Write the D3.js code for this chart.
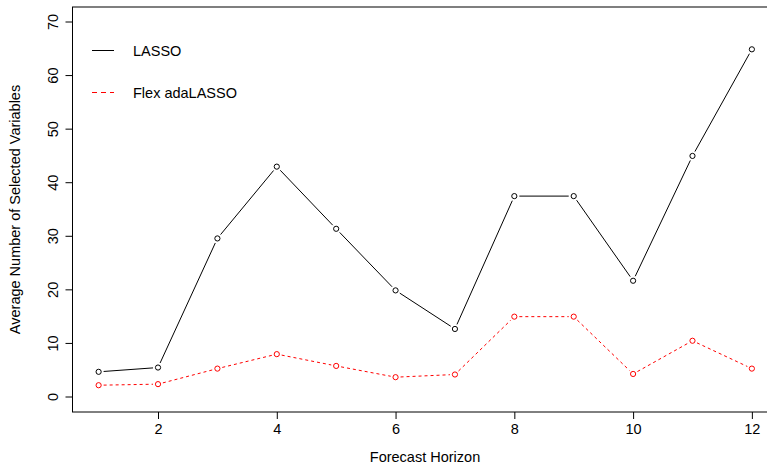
<!DOCTYPE html>
<html>
<head>
<meta charset="utf-8">
<script src="https://cdn.jsdelivr.net/npm/d3@7"></script>
<style>
  body { margin: 0; background: #fff; }
  text { font-family: "Liberation Sans", Arial, sans-serif; }
</style>
</head>
<body>
<script>
var horizons = [1, 2, 3, 4, 5, 6, 7, 8, 9, 10, 11, 12];
var lasso = [4.7, 5.5, 29.6, 43.0, 31.4, 19.9, 12.7, 37.5, 37.5, 21.7, 45.0, 64.9];
var flexAda = [2.2, 2.4, 5.3, 8.0, 5.8, 3.7, 4.2, 15.0, 15.0, 4.3, 10.5, 5.3];
var xTicks = [2, 4, 6, 8, 10, 12];
var yTicks = [0, 10, 20, 30, 40, 50, 60, 70];
var seriesNames = ["LASSO", "Flex adaLASSO"];

var svgWidth = 767;
var svgHeight = 468;

// R style: 4% padding around the data range
var x = d3.scaleLinear()
          .domain([1 - 0.44, 12 + 0.44])
          .range([72.5, 778]);
var y = d3.scaleLinear()
          .domain([-2.8, 72.8])
          .range([412, 7]);

var svg = d3.select("body")
            .append("svg")
            .attr("width", svgWidth)
            .attr("height", svgHeight);

// box
svg.append("rect")
   .attr("x", x.range()[0])
   .attr("y", y.range()[1])
   .attr("width", x.range()[1] - x.range()[0])
   .attr("height", y.range()[0] - y.range()[1])
   .attr("fill", "none")
   .attr("stroke", "#000")
   .attr("stroke-width", 1);

var xAxis = d3.axisBottom(x).tickValues(xTicks).tickSize(7).tickPadding(5);
var yAxis = d3.axisLeft(y).tickValues(yTicks).tickSize(7).tickPadding(5);

var gx = svg.append("g")
   .attr("transform", "translate(0," + y.range()[0] + ")")
   .call(xAxis);
gx.select(".domain").remove();
gx.selectAll("text").attr("font-size", "14.5px").attr("fill", "#000").attr("font-family", "Liberation Sans, Arial, sans-serif");

var gy = svg.append("g")
   .attr("transform", "translate(" + x.range()[0] + ",0)")
   .call(yAxis);
gy.select(".domain").remove();
gy.selectAll("text")
  .attr("font-size", "14.5px")
  .attr("fill", "#000")
  .attr("font-family", "Liberation Sans, Arial, sans-serif")
  .attr("text-anchor", "middle")
  .attr("dy", null)
  .attr("x", null)
  .attr("transform", function(d) { return "translate(-15," + y(d) + ") rotate(-90)"; })
  .attr("y", 0);
gy.selectAll(".tick").attr("transform", null);
gy.selectAll(".tick line").attr("transform", function(d) { return "translate(0," + y(d) + ")"; });

// axis titles
svg.append("text")
   .attr("x", 425)
   .attr("y", 462)
   .attr("text-anchor", "middle")
   .attr("font-size", "14.5px")
   .text("Forecast Horizon");

svg.append("text")
   .attr("transform", "translate(20," + ((y.range()[0] + y.range()[1]) / 2) + ") rotate(-90)")
   .attr("text-anchor", "middle")
   .attr("font-size", "14.5px")
   .text("Average Number of Selected Variables");

// type="b": segments stop short of the points
function drawSeries(vals, color, dash) {
  var pts = horizons.map(function(h, i) { return [x(h), y(vals[i])]; });
  var gap = 5;
  for (var i = 0; i < pts.length - 1; i++) {
    var dx = pts[i + 1][0] - pts[i][0], dy = pts[i + 1][1] - pts[i][1];
    var len = Math.sqrt(dx * dx + dy * dy);
    if (len <= 2 * gap) continue;
    var ux = dx / len, uy = dy / len;
    svg.append("line")
       .attr("x1", pts[i][0] + ux * gap)
       .attr("y1", pts[i][1] + uy * gap)
       .attr("x2", pts[i + 1][0] - ux * gap)
       .attr("y2", pts[i + 1][1] - uy * gap)
       .attr("stroke", color)
       .attr("stroke-width", 1)
       .attr("stroke-dasharray", dash);
  }
  svg.selectAll(null)
     .data(pts)
     .enter()
     .append("circle")
     .attr("cx", function(d) { return d[0]; })
     .attr("cy", function(d) { return d[1]; })
     .attr("r", 2.6)
     .attr("fill", "none")
     .attr("stroke", color)
     .attr("stroke-width", 1);
}

drawSeries(lasso, "#000", null);
drawSeries(flexAda, "#ff0000", "3,3");

// legend
var legend = svg.append("g");
var legendColors = ["#000", "#ff0000"];
var legendDash = [null, "5,4"];
seriesNames.forEach(function(name, i) {
  var ly = 50.5 + i * 42;
  legend.append("line")
        .attr("x1", 92).attr("x2", 114)
        .attr("y1", ly).attr("y2", ly)
        .attr("stroke", legendColors[i])
        .attr("stroke-width", 1)
        .attr("stroke-dasharray", legendDash[i]);
  legend.append("text")
        .attr("x", 133)
        .attr("y", ly + 5)
        .attr("font-size", "14.5px")
        .text(name);
});
</script>
</body>
</html>
